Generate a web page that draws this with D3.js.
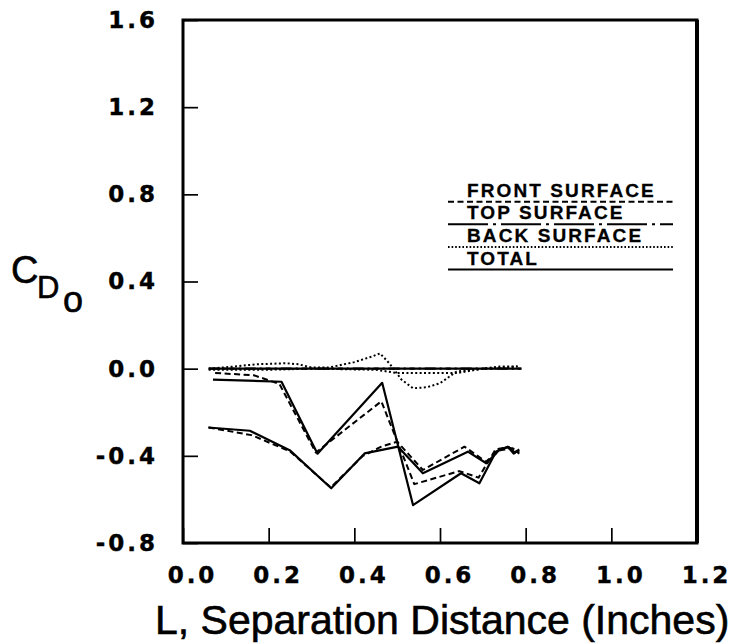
<!DOCTYPE html>
<html><head><meta charset="utf-8">
<script src="https://cdn.jsdelivr.net/npm/d3@7"></script>
<style>body{margin:0;background:#fff}svg{display:block}</style>
</head><body>
<svg id="c" width="740" height="643"></svg>
<script>
// ---- data ----
const xTicks = [0.0, 0.2, 0.4, 0.6, 0.8, 1.0, 1.2];
const yTicks = [-0.8, -0.4, 0.0, 0.4, 0.8, 1.2, 1.6];
const legendLabels = ["FRONT SURFACE", "TOP SURFACE", "BACK SURFACE", "TOTAL"];

// configuration A (upper curves)
const frontA_x = [0.075, 0.165, 0.225, 0.31, 0.463, 0.54, 0.645, 0.69, 0.73, 0.76, 0.785];
const frontA_y = [-0.02, -0.03, -0.07, -0.385, -0.15, -0.53, -0.47, -0.50, -0.37, -0.36, -0.385];
const topA_x = [0.06, 0.79];
const topA_y = [0.0, 0.0];
const backA_x = [0.06, 0.12, 0.17, 0.24, 0.27, 0.30, 0.34, 0.40, 0.44, 0.46, 0.482, 0.51, 0.537, 0.57, 0.60, 0.638, 0.68, 0.72, 0.78];
const backA_y = [0.0, 0.01, 0.02, 0.025, 0.02, 0.005, 0.005, 0.03, 0.055, 0.07, 0.024, -0.05, -0.09, -0.085, -0.067, -0.014, -0.003, 0.0, 0.01];
const totalA_x = [0.07, 0.23, 0.314, 0.465, 0.537, 0.649, 0.692, 0.731, 0.758, 0.772, 0.785];
const totalA_y = [-0.05, -0.06, -0.39, -0.065, -0.626, -0.48, -0.526, -0.38, -0.358, -0.39, -0.37];

// configuration B (lower curves)
const frontB_x = [0.06, 0.16, 0.25, 0.345, 0.42, 0.463, 0.50, 0.56, 0.657, 0.707, 0.74, 0.77, 0.785];
const frontB_y = [-0.27, -0.305, -0.38, -0.545, -0.40, -0.358, -0.335, -0.465, -0.358, -0.427, -0.375, -0.365, -0.39];
const topB_x = [0.06, 0.79];
const topB_y = [0.0, 0.0];
const backB_x = [0.06, 0.20, 0.30, 0.45, 0.50, 0.55, 0.64, 0.70, 0.74, 0.785];
const backB_y = [-0.005, -0.005, 0.0, -0.005, -0.02, -0.02, -0.02, 0.0, 0.01, 0.01];
const totalB_x = [0.059, 0.156, 0.249, 0.346, 0.424, 0.502, 0.56, 0.665, 0.708, 0.74, 0.76, 0.775, 0.785];
const totalB_y = [-0.27, -0.285, -0.374, -0.549, -0.389, -0.358, -0.48, -0.381, -0.434, -0.37, -0.36, -0.385, -0.375];

// ---- drawing ----
const svg = d3.select("#c");
const x = d3.scaleLinear().domain([0, 1.2]).range([183, 697]);
const y = d3.scaleLinear().domain([-0.8, 1.6]).range([543, 20]);
const fmt = v => d3.format(".1f")(v).replace("\u2212", "-");

const styles = {
  front: {dash: "6,3.5", w: 2},
  top: {dash: "26,4,2,4", w: 2.2},
  back: {dash: "2,2.4", w: 2},
  total: {dash: null, w: 2.2}
};

const series = [
  {k: "back", xs: backA_x, ys: backA_y},
  {k: "back", xs: backB_x, ys: backB_y},
  {k: "top", xs: topA_x, ys: topA_y, off: 0},
  {k: "top", xs: topB_x, ys: topB_y, off: 15},
  {k: "front", xs: frontA_x, ys: frontA_y},
  {k: "front", xs: frontB_x, ys: frontB_y},
  {k: "total", xs: totalA_x, ys: totalA_y},
  {k: "total", xs: totalB_x, ys: totalB_y}
];

const line = d3.line().x(d => x(d[0])).y(d => y(d[1]));
series.forEach(s => {
  const pts = s.xs.map((v, i) => [v, s.ys[i]]);
  const st = styles[s.k];
  svg.append("path").attr("d", line(pts))
    .attr("fill", "none").attr("stroke", "#000")
    .attr("stroke-width", st.w)
    .attr("stroke-linejoin", "round")
    .attr("stroke-dasharray", st.dash)
    .attr("stroke-dashoffset", s.off || 0);
});

// axes
const gx = svg.append("g").attr("transform", `translate(0,${y(-0.8)})`)
  .call(d3.axisBottom(x).tickValues(xTicks).tickFormat(fmt).tickSizeInner(-15).tickSizeOuter(0).tickPadding(24));
const gy = svg.append("g").attr("transform", `translate(${x(0)},0)`)
  .call(d3.axisLeft(y).tickValues(yTicks).tickFormat(fmt).tickSizeInner(-15).tickSizeOuter(0).tickPadding(28));
[gx, gy].forEach(g => {
  g.select(".domain").remove();
  g.selectAll(".tick line").attr("stroke", "#000").attr("stroke-width", 1.7);
  g.selectAll(".tick text").attr("fill", "#000")
    .attr("stroke", "#000").attr("stroke-width", 0.4)
    .style("font-family", "'DejaVu Sans', sans-serif").style("font-weight", "bold")
    .style("font-size", "23px").style("letter-spacing", "3px");
});
gx.selectAll(".tick text").attr("dx", 9);
gy.selectAll(".tick text").attr("dx", 3);

// frame
svg.append("rect").attr("x", x(0)).attr("y", y(1.6))
  .attr("width", x(1.2) - x(0)).attr("height", y(-0.8) - y(1.6))
  .attr("fill", "none").attr("stroke", "#000").attr("stroke-width", 3);
svg.append("line").attr("x1", x(1.2)).attr("x2", x(1.2)).attr("y1", y(1.6)).attr("y2", y(-0.8))
  .attr("stroke", "#000").attr("stroke-width", 4);

// legend
const legKeys = ["front", "top", "back", "total"];
const lg = svg.append("g");
legendLabels.forEach((lab, i) => {
  const ly = 201.7 + i * 22.6;
  lg.append("text").attr("x", 467).attr("y", ly - 5)
    .attr("stroke", "#000").attr("stroke-width", 0.3)
    .style("font-family", "'Liberation Sans', Arial, sans-serif").style("font-weight", "bold")
    .style("font-size", "19px").style("letter-spacing", "2.1px").text(lab);
  const st = styles[legKeys[i]];
  lg.append("line").attr("x1", 448).attr("x2", 673).attr("y1", ly).attr("y2", ly)
    .attr("stroke", "#000").attr("stroke-width", 2)
    .attr("stroke-dasharray", legKeys[i] === "top" ? "40,5,3,5" : (legKeys[i] === "back" ? "1.6,2" : st.dash));
});

// axis titles
svg.append("text").attr("x", 155).attr("y", 634)
  .attr("stroke", "#000").attr("stroke-width", 0.6)
  .style("font-family", "'Liberation Sans', Arial, sans-serif").style("font-size", "41px")
  .text("L, Separation Distance (Inches)");
const yt = svg.append("text").attr("stroke", "#000").attr("stroke-width", 0.6)
  .style("font-family", "'Liberation Sans', Arial, sans-serif");
yt.append("tspan").attr("x", 11).attr("y", 283).style("font-size", "38px").text("C");
yt.append("tspan").attr("x", 37).attr("y", 298).style("font-size", "31px").text("D");
yt.append("tspan").attr("x", 63).attr("y", 312).style("font-size", "36px").text("o");
</script>
</body></html>
